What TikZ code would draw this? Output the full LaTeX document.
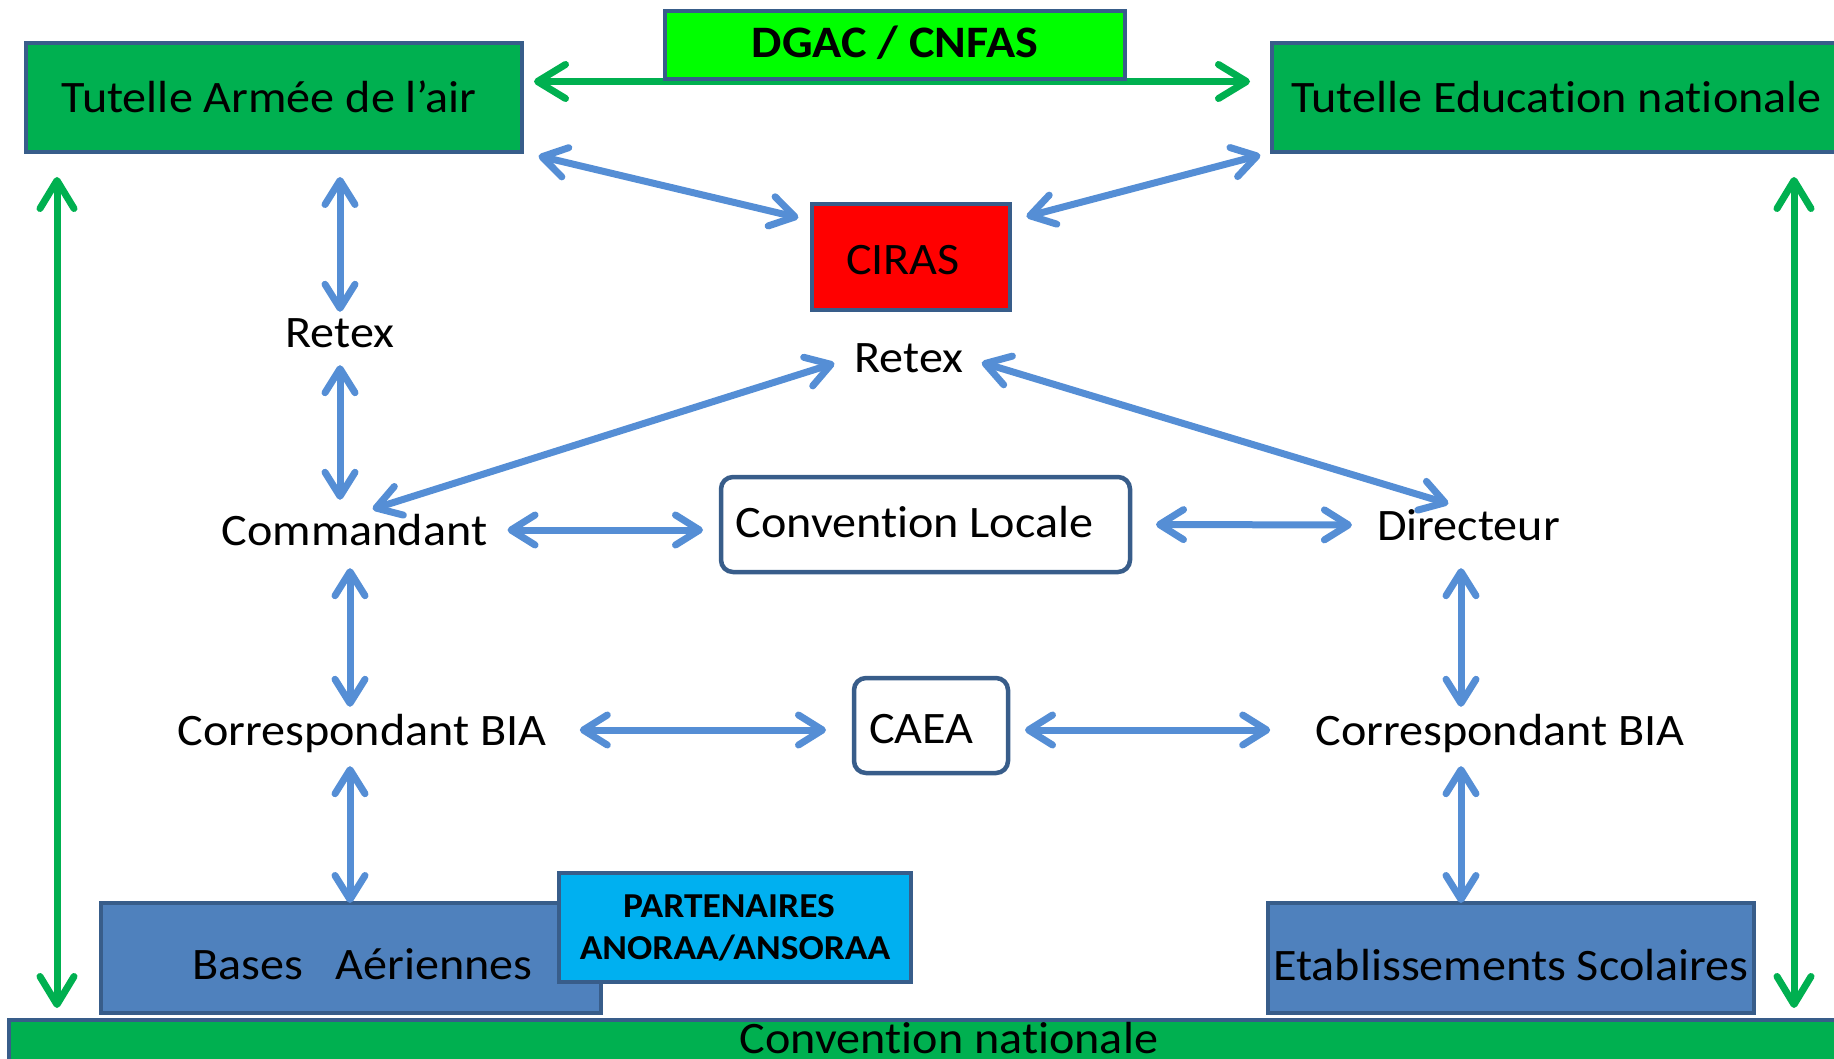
\documentclass[tikz,border=0pt]{standalone}
\usepackage{fontspec}
\setmainfont{Carlito}[FakeStretch=1.07, Ligatures=CommonOff]
\usetikzlibrary{arrows.meta}
\definecolor{boxgreen}{RGB}{0,176,80}
\definecolor{lightgreen}{RGB}{0,255,0}
\definecolor{boxred}{RGB}{255,0,0}
\definecolor{boxblue}{RGB}{79,129,189}
\definecolor{skyblue}{RGB}{0,176,240}
\definecolor{edgeblue}{RGB}{56,93,138}
\definecolor{arrowblue}{RGB}{85,142,213}
\newcommand{\bigtext}{\fontsize{45}{54}\selectfont}
\newcommand{\parttext}{\fontsize{35}{42}\selectfont\bfseries}

\begin{document}
\begin{tikzpicture}[x=1pt, y=-1pt,
    box/.style={draw=edgeblue, line width=4.5pt, inner sep=0pt, outer sep=0pt, font=\bigtext},
    lbl/.style={inner sep=0pt, anchor=base, font=\bigtext, text height=30pt, text depth=0pt},
    bluearrow/.style={draw=arrowblue, line width=7pt, >={Straight Barb[round,length=24pt,width=30pt]}, <->},
    greenarrow/.style={draw=boxgreen, line width=7pt, >={Straight Barb[round,length=28pt,width=34pt]}, <->}]
    \useasboundingbox (0,0) rectangle (1834,1059);

    % tutelles
    \node[box, fill=boxgreen, minimum width=496pt, minimum height=109pt, text height=31pt, text depth=0pt] (ta) at (274,97.5) {Tutelle Armée de l’air\kern10pt};
    \node[box, fill=boxgreen, minimum width=569pt, minimum height=109pt, text height=31pt, text depth=0pt] (ten) at (1556.5,97.5) {Tutelle Education nationale};
    \draw[greenarrow, shorten <=12pt, shorten >=22pt] ([yshift=16pt]ta.east) -- ([yshift=16pt]ten.west);
    \node[box, fill=lightgreen, minimum width=460pt, minimum height=68pt, text height=26pt, text depth=0pt, font=\bigtext\bfseries] (dgac) at (895,45) {DGAC / CNFAS};

    \node[box, fill=boxred, minimum width=198pt, minimum height=106pt, text height=36pt, text depth=0pt] (ciras) at (911,257) {CIRAS\kern16pt};

    % acteurs
    \node[lbl] (retexa) at (340,347) {Retex};
    \node[lbl] (retexb) at (909,372) {Retex};
    \node[lbl] (cmd) at (354.5,545) {Commandant};
    \node[lbl] (dir) at (1468.5,540) {Directeur};
    \node[lbl] (cbl) at (362,745) {Correspondant BIA};
    \node[lbl] (cbr) at (1500,745) {Correspondant BIA};
    \node[box, rounded corners=12pt, minimum width=409pt, minimum height=95pt, text height=25pt, text depth=0pt] (cl) at (925.5,524.5) {Convention Locale\kern22pt};
    \node[box, rounded corners=12pt, minimum width=154pt, minimum height=95pt, text height=35pt, text depth=0pt] (caea) at (931,725.5) {CAEA\kern19pt};

    % etablissements
    \node[box, fill=boxblue, minimum width=500pt, minimum height=110pt, text height=42pt, text depth=0pt] (ba) at (351,958) {\kern23pt Bases\ \ \ Aériennes};
    \node[box, fill=skyblue, minimum width=352pt, minimum height=109pt, align=center, font=\parttext] (part) at (735,927.5) {PARTENAIRES\kern12pt\\ANORAA/ANSORAA};
    \node[box, fill=boxblue, minimum width=486pt, minimum height=110pt, text height=44pt, text depth=0pt] (es) at (1511,958) {Etablissements Scolaires};
    \node[box, fill=boxgreen, minimum width=1880pt, anchor=north, text height=28pt, text depth=30pt, inner ysep=5pt] (cn) at (949,1020) {Convention nationale};

    \coordinate (gl) at (57,0);
    \coordinate (gr) at (1794,0);
    \coordinate (axl) at (350,0);
    \coordinate (axr) at (1461,0);

    \draw[greenarrow, shorten <=25pt, shorten >=12pt] (gl |- ta.south) -- (gl |- cn.north);
    \draw[greenarrow, shorten <=25pt, shorten >=12pt] (gr |- ten.south) -- (gr |- cn.north);

    \draw[bluearrow, shorten <=17pt, shorten >=14pt] (ta.south east) -- (ciras.160);
    \draw[bluearrow, shorten <=17pt, shorten >=12pt] (ciras.20) -- (ten.south west);
    \draw[bluearrow, shorten <=25pt, shorten >=5pt] (retexa.north |- ta.south) -- (retexa.north);
    \draw[bluearrow, shorten <=18pt, shorten >=15pt] (retexa.south) -- (retexa.south |- cmd.north);
    \draw[bluearrow, shorten <=21pt, shorten >=19pt] (retexb.west) -- (cmd.north);
    \draw[bluearrow, shorten <=19pt, shorten >=21pt] (retexb.east) -- (dir.north);
    \draw[bluearrow, shorten <=20pt, shorten >=18pt] (cmd.east) -- (cmd.east -| cl.west);
    \draw[bluearrow, shorten <=26pt, shorten >=25pt] (cl.east) -- (dir.west);
    \draw[bluearrow, shorten <=23pt, shorten >=8pt] (axl |- cmd.south) -- (axl |- cbl.north);
    \draw[bluearrow, shorten <=33pt, shorten >=28pt] (cbl.east) -- (cbl.east -| caea.west);
    \draw[bluearrow, shorten <=17pt, shorten >=45pt] (cbr.west -| caea.east) -- (cbr.west);
    \draw[bluearrow, shorten <=28pt, shorten >=8pt] (axr |- dir.south) -- (axr |- cbr.north);
    \draw[bluearrow, shorten <=21pt, shorten >=0pt] (axl |- cbl.south) -- (axl |- ba.north);
    \draw[bluearrow, shorten <=21pt, shorten >=0pt] (axr |- cbr.south) -- (axr |- es.north);
\end{tikzpicture}
\end{document}
